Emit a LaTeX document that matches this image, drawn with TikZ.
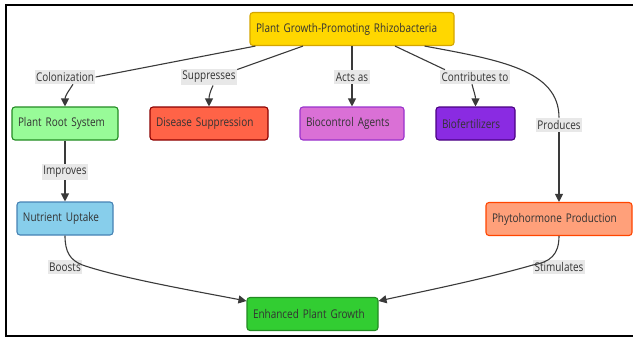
\documentclass[tikz,border=0pt]{standalone}
\usepackage{fontspec}
\setmainfont{Open Sans}[FakeStretch=0.83]
\usetikzlibrary{arrows.meta}

\definecolor{txt}     {HTML}{333333}
\definecolor{edgec}   {HTML}{3A3A3A}
\definecolor{lblbg}   {HTML}{E8E8E8}
\definecolor{pgprF}   {HTML}{FFD700}
\definecolor{pgprD}   {HTML}{D4A500}
\definecolor{rootF}   {HTML}{98FB98}
\definecolor{rootD}   {HTML}{228B22}
\definecolor{disF}    {HTML}{FF6347}
\definecolor{disD}    {HTML}{8B0000}
\definecolor{ctrlF}   {HTML}{DA70D6}
\definecolor{ctrlD}   {HTML}{9932CC}
\definecolor{fertF}   {HTML}{8A2BE2}
\definecolor{fertD}   {HTML}{4B0082}
\definecolor{nutF}    {HTML}{87CEEB}
\definecolor{nutD}    {HTML}{4682B4}
\definecolor{phyF}    {HTML}{FFA07A}
\definecolor{phyD}    {HTML}{FF4500}
\definecolor{growF}   {HTML}{32CD32}
\definecolor{growD}   {HTML}{228B22}

\begin{document}
\begin{tikzpicture}[x=1pt, y=-1pt,
    box/.style={draw, rounded corners=3pt, line width=1.1pt, minimum height=33pt,
      inner xsep=6pt, align=left, text=txt, font=\fontsize{12}{14}\selectfont},
    lbl/.style={fill=lblbg, inner xsep=1.5pt, inner ysep=2.5pt, text=txt,
      font=\fontsize{12}{14}\selectfont},
    link/.style={draw=edgec, line width=1.1pt},
    edge/.style={link, -{Triangle[length=8pt,width=8pt]}}]
    \useasboundingbox (0,0) rectangle (633,338);
    %--- Ramme ---
    \draw[line width=2pt] (633,5)--(6,5)--(6,336)--(633,336);
    %--- Noder ---
    \node[box, fill=pgprF, draw=pgprD, text width=192pt] (pgpr) at (352,29){Plant Growth-Promoting Rhizobacteria};
    \node[box, fill=rootF, draw=rootD, text width=94pt] (root) at (65,123.5){Plant Root System};
    \node[box, fill=disF, draw=disD, text width=106pt] (disease) at (209,123.5){Disease Suppression};
    \node[box, fill=ctrlF, draw=ctrlD, text width=92pt] (bioctrl) at (352,123.5){Biocontrol Agents};
    \node[box, fill=fertF, draw=fertD, text width=67pt] (biofert) at (475.5,123.5){Biofertilizers};
    \node[box, fill=nutF, draw=nutD, text width=84pt] (nutrient) at (65,218.5){Nutrient Uptake};
    \node[box, fill=phyF, draw=phyD, text width=134pt] (phyto) at (559,219){Phytohormone Production};
    \node[box, fill=growF, draw=growD, text width=119pt] (growth) at (312.5,314){Enhanced Plant Growth};
    %--- Etiketter ---
    \node[lbl] (colon) at (65,77){Colonization};
    \node[lbl] (suppr) at (209,77){Suppresses};
    \node[lbl] (actsas) at (352,77){Acts as};
    \node[lbl] (contrib) at (475,77){Contributes to};
    \node[lbl] (produces) at (559,125){Produces};
    \node[lbl] (improves) at (65,172){Improves};
    \node[lbl] (boosts) at (65,267){Boosts};
    \node[lbl] (stimul) at (559,267){Stimulates};
    %--- Piler fra PGPR ---
    \draw[link]([xshift=6pt]pgpr.south west)--(colon.east);
    \draw[edge]([xshift=8pt]colon.south) .. controls (68,92) and (65,96) .. (root.north);
    \draw[link]([xshift=-49pt]pgpr.south)--([yshift=-1pt]suppr.north east);
    \draw[edge]([xshift=4pt]suppr.south) .. controls (210,92) and (209,96) .. (disease.north);
    \draw[link](pgpr.south)--(actsas.north);
    \draw[edge](actsas.south)--(bioctrl.north);
    \draw[link]([xshift=43pt]pgpr.south)--([xshift=5pt]contrib.north west);
    \draw[edge]([xshift=-3pt]contrib.south) .. controls (474,92) and (475.5,96) .. (biofert.north);
    \draw[link]([xshift=-30pt]pgpr.south east) .. controls (500,60) and (559,70) .. (produces.north);
    \draw[edge](produces.south)--(phyto.north);
    %--- Nedre del ---
    \draw[link](root.south)--(improves.north);
    \draw[edge](improves.south)--(nutrient.north);
    \draw[link](nutrient.south) .. controls (65,252) and (70,260) .. ([yshift=2pt]boosts.east);
    \draw[edge]([yshift=2pt]boosts.east) .. controls (120,278) and (200,292) .. ([yshift=13pt]growth.west);
    \draw[link](phyto.south) .. controls (559,255) and (550,262) .. ([yshift=2pt]stimul.west);
    \draw[edge]([yshift=2pt]stimul.west) .. controls (480,280) and (420,292) .. ([yshift=13pt]growth.east);
\end{tikzpicture}
\end{document}
